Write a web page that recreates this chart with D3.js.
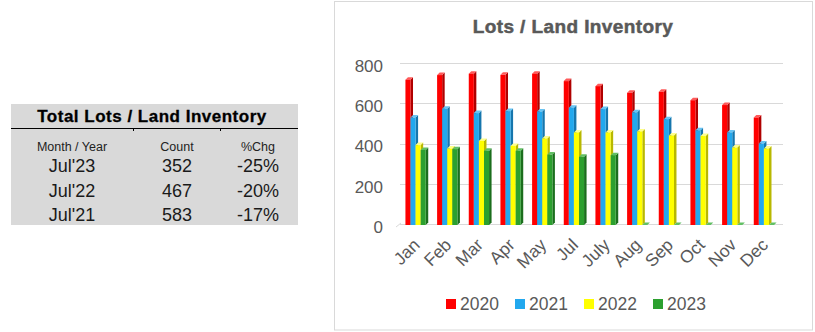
<!DOCTYPE html>
<html>
<head>
<meta charset="utf-8">
<script src="https://cdn.jsdelivr.net/npm/d3@7"></script>
<style>
  html, body { margin: 0; padding: 0; background: #ffffff; }
  svg { display: block; }
  text { font-family: "Liberation Sans", Arial, sans-serif; }
</style>
</head>
<body>
<svg id="chart" width="815" height="332"></svg>
<script>
// ---------- data ----------
const months = ["Jan","Feb","Mar","Apr","May","Jul","July","Aug","Sep","Oct","Nov","Dec"];
const seriesNames = ["2020","2021","2022","2023"];
const s2020 = [722,745,752,746,752,715,690,657,662,620,596,534];
const s2021 = [534,578,556,566,564,583,576,560,526,471,460,405];
const s2022 = [397,380,418,393,430,460,460,465,445,442,385,380];
const s2023 = [373,377,369,369,350,339,347,0,0,0,0,0];
const yTicks = [0,200,400,600,800];

const tableTitle = "Total Lots / Land Inventory";
const tableHeaders = ["Month / Year","Count","%Chg"];
const tablePeriods = ["Jul'23","Jul'22","Jul'21"];
const tableCounts = [352,467,583];
const tableChanges = ["-25%","-20%","-17%"];

const chartTitle = "Lots / Land Inventory";

// ---------- styles ----------
const colors = {
  "2020": {front:"#ff0000", side:"#b00000", top:"#ff5a5a"},
  "2021": {front:"#22a8ee", side:"#1676ad", top:"#66c4f4"},
  "2022": {front:"#ffff00", side:"#b8b800", top:"#ffff8a"},
  "2023": {front:"#2ca02f", side:"#1b6e1d", top:"#62c064"}
};
const textGray = "#595959";
const seriesData = [s2020, s2021, s2022, s2023];

const svg = d3.select("#chart");

// ---------- left table ----------
const tbl = svg.append("g");
tbl.append("rect").attr("x", 11).attr("y", 104).attr("width", 287).attr("height", 121).attr("fill", "#d9d9d9");
tbl.append("text").attr("x", 152).attr("y", 122).attr("text-anchor", "middle")
  .attr("font-size", 17).attr("font-weight", "bold").attr("letter-spacing", 0.5).attr("fill", "#000")
  .attr("stroke", "#000").attr("stroke-width", 0.3)
  .text(tableTitle);
tbl.append("line").attr("x1", 11).attr("x2", 298).attr("y1", 128.5).attr("y2", 128.5)
  .attr("stroke", "#000").attr("stroke-width", 1);
[133, 220].forEach(x => tbl.append("line").attr("x1", x + 0.5).attr("x2", x + 0.5)
  .attr("y1", 128).attr("y2", 131).attr("stroke", "#000").attr("stroke-width", 1));

const colX = [72, 177, 258];
tableHeaders.forEach((h, i) => {
  tbl.append("text").attr("x", colX[i]).attr("y", 151).attr("text-anchor", "middle")
    .attr("font-size", 12.5).attr("fill", "#222").text(h);
});
const rowY = d3.scalePoint().domain(tablePeriods).range([172, 221]);
tablePeriods.forEach((p, i) => {
  const yy = rowY(p);
  [p, String(tableCounts[i]), tableChanges[i]].forEach((t, j) => {
    tbl.append("text").attr("x", colX[j]).attr("y", yy).attr("text-anchor", "middle")
      .attr("font-size", 18).attr("fill", "#1a1a1a").text(t);
  });
});

// ---------- chart box ----------
svg.append("rect").attr("x", 334.5).attr("y", 1.5).attr("width", 478).attr("height", 328.5)
  .attr("fill", "#fff").attr("stroke", "#d9d9d9").attr("stroke-width", 1);

svg.append("text").attr("x", 573).attr("y", 33).attr("text-anchor", "middle")
  .attr("font-size", 19).attr("font-weight", "bold").attr("letter-spacing", 0.4)
  .attr("stroke", textGray).attr("stroke-width", 0.5)
  .attr("fill", textGray).text(chartTitle);

// ---------- scales ----------
const y = d3.scaleLinear().domain([0, 800]).range([225, 64]);
const x0 = d3.scaleBand().domain(months).range([401, 781]).paddingInner(0.28).paddingOuter(0.14);
const depth = 2.5;
const x1 = d3.scaleBand().domain(seriesNames).range([0, x0.bandwidth() - depth]);

// gridlines (back wall)
const grid = svg.append("g");
grid.selectAll("line").data(yTicks).join("line")
  .attr("x1", 400).attr("x2", 783)
  .attr("y1", d => Math.round(y(d) - 1) + 0.5).attr("y2", d => Math.round(y(d) - 1) + 0.5)
  .attr("stroke", "#d9d9d9").attr("stroke-width", 1);
grid.append("line").attr("x1", 396).attr("y1", y(0) + 2).attr("x2", 401).attr("y2", y(0) - 2)
  .attr("stroke", "#d9d9d9").attr("stroke-width", 1);

// y axis labels
const yAxis = d3.axisLeft(y).tickValues(yTicks).tickSize(0).tickPadding(0);
const yG = svg.append("g").attr("transform", "translate(383,2)").call(yAxis);
yG.select(".domain").remove();
yG.selectAll("text").attr("font-size", 17).attr("fill", textGray)
  .attr("font-family", "Liberation Sans, Arial, sans-serif");

// ---------- 3D bars ----------
const bars = svg.append("g");
months.forEach((m, mi) => {
  seriesNames.forEach((s, si) => {
    const v = seriesData[si][mi];
    const c = colors[s];
    const bx = x0(m) + x1(s);
    const w = x1.bandwidth();
    const top = y(v), base = y(0);
    bars.append("path")
      .attr("d", `M${bx + w},${top} L${bx + w + depth},${top - depth} L${bx + w + depth},${base - depth} L${bx + w},${base} Z`)
      .attr("fill", c.side);
    bars.append("path")
      .attr("d", `M${bx},${top} L${bx + depth},${top - depth} L${bx + w + depth},${top - depth} L${bx + w},${top} Z`)
      .attr("fill", c.top);
    bars.append("rect").attr("x", bx).attr("y", top).attr("width", w).attr("height", base - top)
      .attr("fill", c.front);
  });
});

// ---------- x axis labels ----------
const xG = svg.append("g");
months.forEach(m => {
  const cx = x0(m) + x0.bandwidth() / 2 + 4;
  xG.append("text")
    .attr("transform", `translate(${cx},246) rotate(-45)`)
    .attr("text-anchor", "end")
    .attr("font-size", 17.5).attr("fill", textGray)
    .text(m);
});

// ---------- legend ----------
const legX = d3.scalePoint().domain(seriesNames).range([446, 653]);
const leg = svg.append("g");
seriesNames.forEach(s => {
  const lx = legX(s);
  leg.append("rect").attr("x", lx).attr("y", 299).attr("width", 10).attr("height", 10).attr("fill", colors[s].front);
  leg.append("text").attr("x", lx + 14).attr("y", 310).attr("font-size", 17.5).attr("fill", textGray).text(s);
});
</script>
</body>
</html>
